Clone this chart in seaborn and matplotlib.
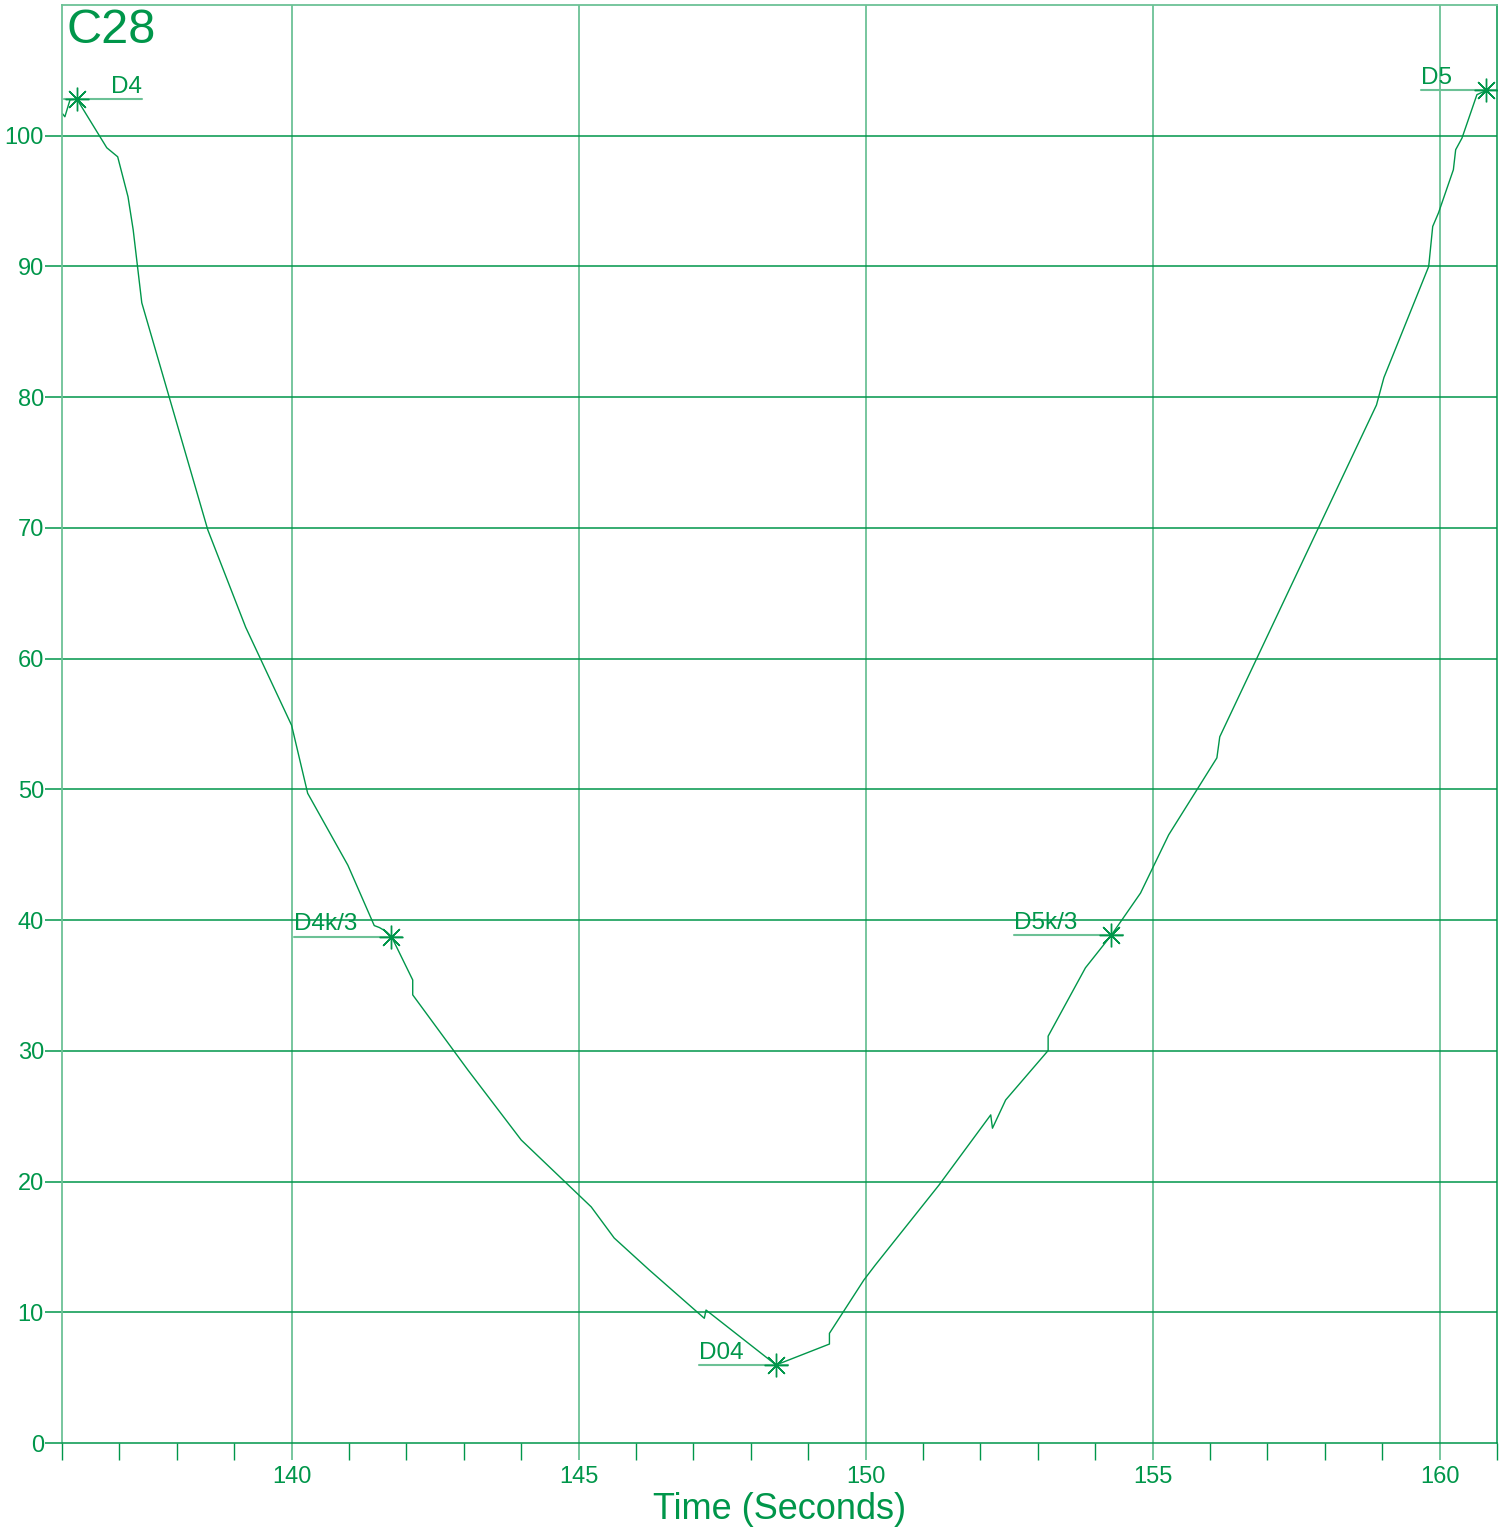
import matplotlib
matplotlib.use("Agg")
import matplotlib.pyplot as plt
import seaborn as sns
import pandas as pd
from matplotlib.ticker import MultipleLocator

# ---- data ----
time_s = [136.01, 136.05, 136.14, 136.26, 136.78, 136.97, 137.15, 137.24, 137.39,
          138.54, 139.2, 140.0, 140.28, 140.98, 141.44, 141.53, 141.65, 141.74,
          142.11, 142.11, 143.07, 144.0, 145.22, 145.62, 146.23, 147.19, 147.22,
          148.44, 149.37, 149.37, 149.97, 150.17, 151.28, 152.18, 152.21, 152.44,
          153.18, 153.18, 153.83, 154.28, 154.79, 155.28, 156.12, 156.17, 158.9,
          159.03, 159.81, 159.88, 159.98, 160.24, 160.28, 160.39, 160.65, 160.81]
value = [101.68, 101.45, 102.75, 102.8, 99.08, 98.39, 95.33, 92.81, 87.22,
         69.85, 62.4, 54.9, 49.7, 44.2, 39.58, 39.43, 39.12, 38.74,
         35.42, 34.28, 28.54, 23.18, 18.06, 15.68, 13.24, 9.54, 10.17,
         5.97, 7.57, 8.39, 12.47, 13.62, 19.74, 25.1, 24.08, 26.24,
         30.02, 31.12, 36.35, 38.84, 42.07, 46.52, 52.41, 54.02, 79.4,
         81.5, 90.0, 93.06, 94.09, 97.4, 98.93, 99.82, 103.14, 103.46]

mark_labels = ["D4", "D4k/3", "D04", "D5k/3", "D5"]
mark_x = [136.26, 141.74, 148.44, 154.28, 160.81]
mark_y = [102.8, 38.74, 5.97, 38.84, 103.46]
leader_x0 = [136.03, 140.04, 147.09, 152.59, 159.67]
leader_x1 = [137.39, 141.93, 148.65, 154.48, 161.0]
label_side = ["right", "left", "left", "left", "left"]

title = "C28"
xlabel = "Time (Seconds)"

# ---- style ----
GREEN = "#00964A"
LIGHT = "#6cc196"

sns.set_theme(style="white")
plt.rcParams["font.family"] = ["Liberation Sans", "DejaVu Sans"]

fig = plt.figure(figsize=(15.12, 15.29), dpi=100)
ax = fig.add_axes([62 / 1512, 1 - 1443 / 1529, (1497 - 62) / 1512, (1443 - 5) / 1529])

df = pd.DataFrame({"t": time_s, "v": value})
sns.lineplot(data=df, x="t", y="v", ax=ax, color=GREEN, linewidth=1.0,
             sort=False, estimator=None)

ax.set_xlim(136, 161)
ax.set_ylim(0, 110)

# grid
for xv in range(140, 161, 5):
    ax.axvline(xv, color=LIGHT, linewidth=1.3, zorder=0.5)
for yv in range(10, 110, 10):
    ax.axhline(yv, color=GREEN, linewidth=1.1, zorder=0.5)

# spines
ax.spines["left"].set_color(LIGHT)
ax.spines["left"].set_linewidth(1.3)
ax.spines["top"].set_color(LIGHT)
ax.spines["top"].set_linewidth(1.3)
ax.spines["right"].set_color(GREEN)
ax.spines["right"].set_linewidth(1.1)
ax.spines["bottom"].set_color(GREEN)
ax.spines["bottom"].set_linewidth(1.1)

# ticks
ax.xaxis.set_major_locator(MultipleLocator(5))
ax.xaxis.set_minor_locator(MultipleLocator(1))
ax.set_yticks(range(0, 101, 10))
ax.tick_params(axis="x", which="major", direction="out", length=12.5, width=1.3,
               color=LIGHT, labelcolor=GREEN, labelsize=17, pad=4, bottom=True)
ax.tick_params(axis="x", which="minor", direction="out", length=12.5, width=1.0,
               color=GREEN, bottom=True)
ax.tick_params(axis="y", which="major", direction="out", length=12, width=1.1,
               color=GREEN, labelcolor=GREEN, labelsize=17, pad=1, left=True)

ax.set_xlabel(xlabel, fontsize=26, color=GREEN, labelpad=3)
ax.set_ylabel("")

ax.text(0.003, 0.998, title, transform=ax.transAxes, fontsize=35, color=GREEN,
        ha="left", va="top")

# markers with leader lines and labels
for lab, mx, my, x0, x1, side in zip(mark_labels, mark_x, mark_y,
                                     leader_x0, leader_x1, label_side):
    ax.plot([x0, x1], [my, my], color=LIGHT, linewidth=1.5, zorder=2)
    ax.plot([mx], [my], marker=(8, 2, 0), markersize=17, color=GREEN,
            markeredgewidth=1.0, linestyle="none", zorder=3)
    if side == "right":
        ax.annotate(lab, (x1, my), xytext=(0, 1), textcoords="offset points",
                    ha="right", va="bottom", fontsize=17.5, color=GREEN)
    else:
        ax.annotate(lab, (x0, my), xytext=(0, 1), textcoords="offset points",
                    ha="left", va="bottom", fontsize=17.5, color=GREEN)

fig.savefig("out.png", dpi=100)
